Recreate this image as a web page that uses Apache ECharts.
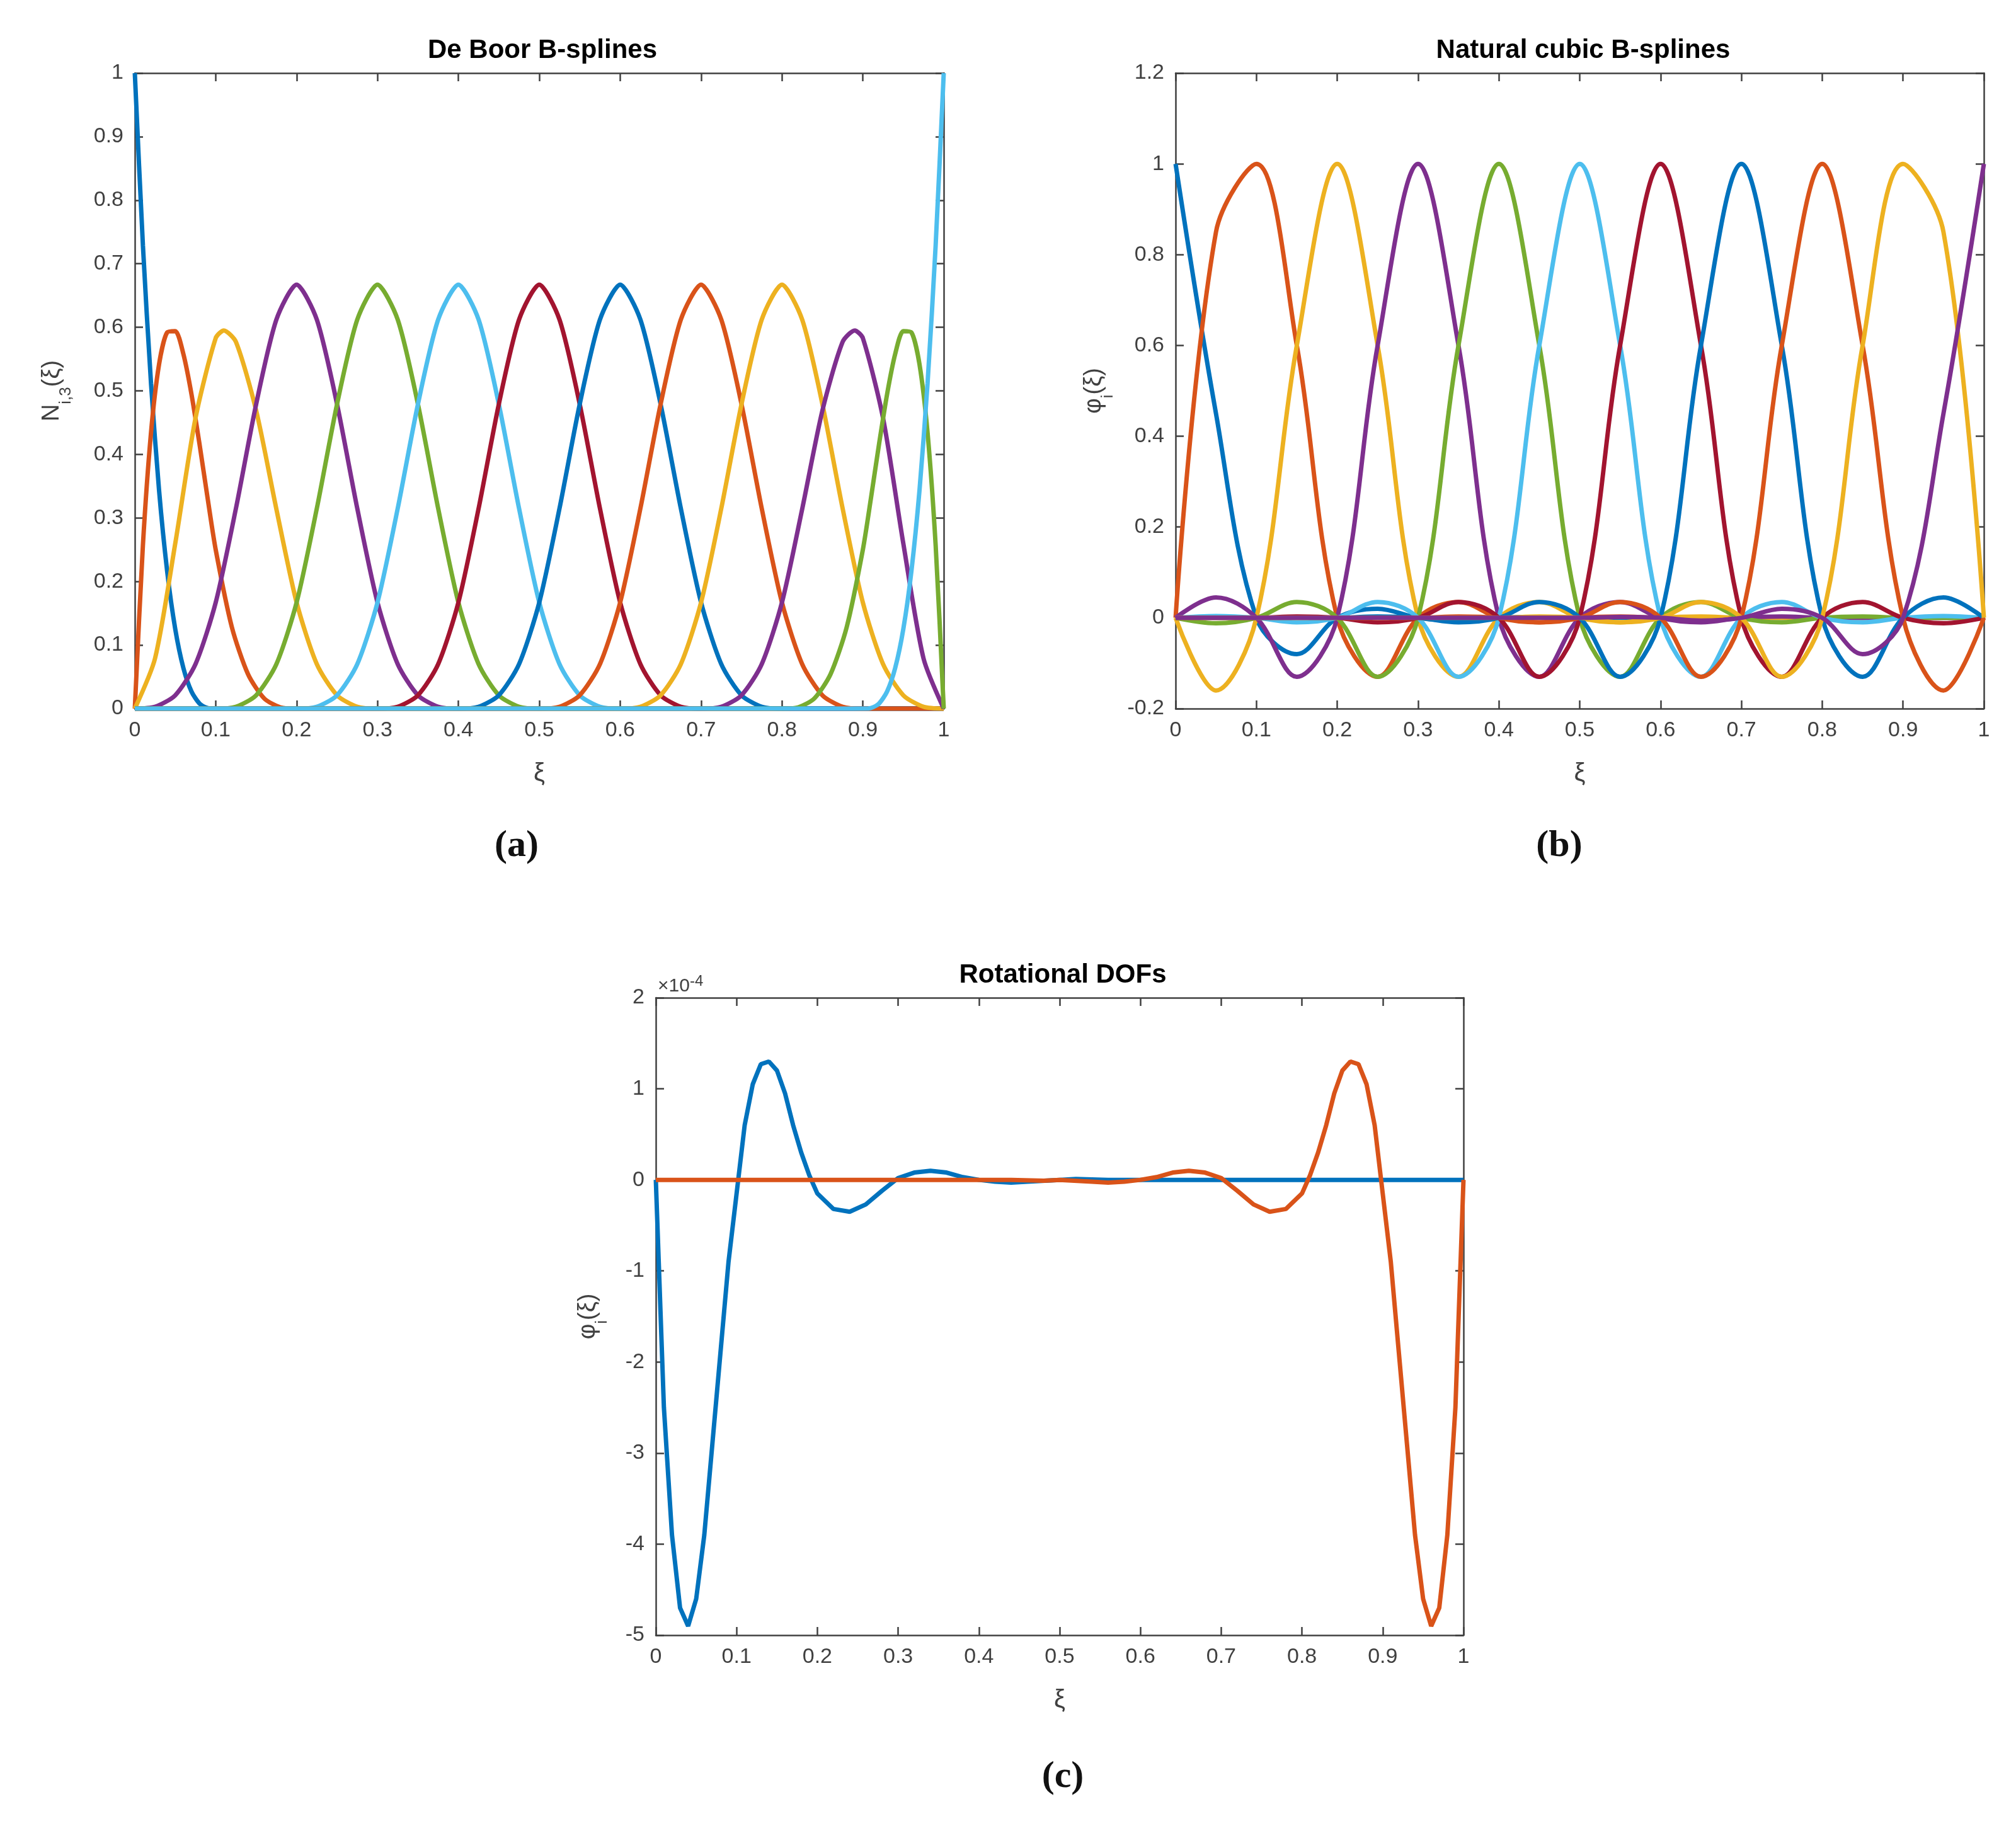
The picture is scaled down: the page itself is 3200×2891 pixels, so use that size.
<!DOCTYPE html>
<html>
<head>
<meta charset="utf-8">
<script src="https://cdn.jsdelivr.net/npm/echarts@6/dist/echarts.min.js"></script>
<style>html,body{margin:0;padding:0;background:#fff}#chart{width:3200px;height:2891px}</style>
</head>
<body>
<div id="chart"></div>
<script>
var colors = ['#0072BD', '#D95319', '#EDB120', '#7E2F8E', '#77AC30', '#4DBEEE', '#A2142F'];

// (a) De Boor B-splines, [xi, N] pairs
var deBoor0 = [[0,1],[0.01,0.729],[0.02,0.512],[0.03,0.343],[0.04,0.216],[0.05,0.125],[0.06,0.064],[0.07,0.027],[0.08,0.008],[0.09,0.001],[0.1,0],[1,0]];
var deBoor1 = [[0,0],[0.01,0.257],[0.02,0.434],[0.03,0.542],[0.04,0.592],[0.05,0.594],[0.06,0.558],[0.07,0.495],[0.08,0.416],[0.09,0.331],[0.1,0.25],[0.12,0.128],[0.14,0.054],[0.16,0.016],[0.18,0.002],[0.2,0],[1,0]];
var deBoor2 = [[0,0],[0.025,0.079],[0.05,0.26],[0.075,0.457],[0.1,0.583],[0.11,0.595],[0.125,0.577],[0.15,0.469],[0.175,0.314],[0.2,0.167],[0.225,0.07],[0.25,0.021],[0.275,0.003],[0.3,0],[1,0]];
var deBoor3 = [[0,0],[0.025,0.003],[0.05,0.021],[0.075,0.07],[0.1,0.167],[0.125,0.315],[0.15,0.479],[0.175,0.612],[0.2,0.667],[0.225,0.612],[0.25,0.479],[0.275,0.315],[0.3,0.167],[0.325,0.07],[0.35,0.021],[0.375,0.003],[0.4,0],[1,0]];
var deBoor4 = [[0,0],[0.1,0],[0.125,0.003],[0.15,0.021],[0.175,0.07],[0.2,0.167],[0.225,0.315],[0.25,0.479],[0.275,0.612],[0.3,0.667],[0.325,0.612],[0.35,0.479],[0.375,0.315],[0.4,0.167],[0.425,0.07],[0.45,0.021],[0.475,0.003],[0.5,0],[1,0]];
var deBoor5 = [[0,0],[0.2,0],[0.225,0.003],[0.25,0.021],[0.275,0.07],[0.3,0.167],[0.325,0.315],[0.35,0.479],[0.375,0.612],[0.4,0.667],[0.425,0.612],[0.45,0.479],[0.475,0.315],[0.5,0.167],[0.525,0.07],[0.55,0.021],[0.575,0.003],[0.6,0],[1,0]];
var deBoor6 = [[0,0],[0.3,0],[0.325,0.003],[0.35,0.021],[0.375,0.07],[0.4,0.167],[0.425,0.315],[0.45,0.479],[0.475,0.612],[0.5,0.667],[0.525,0.612],[0.55,0.479],[0.575,0.315],[0.6,0.167],[0.625,0.07],[0.65,0.021],[0.675,0.003],[0.7,0],[1,0]];
var deBoor7 = [[0,0],[0.4,0],[0.425,0.003],[0.45,0.021],[0.475,0.07],[0.5,0.167],[0.525,0.315],[0.55,0.479],[0.575,0.612],[0.6,0.667],[0.625,0.612],[0.65,0.479],[0.675,0.315],[0.7,0.167],[0.725,0.07],[0.75,0.021],[0.775,0.003],[0.8,0],[1,0]];
var deBoor8 = [[0,0],[0.5,0],[0.525,0.003],[0.55,0.021],[0.575,0.07],[0.6,0.167],[0.625,0.315],[0.65,0.479],[0.675,0.612],[0.7,0.667],[0.725,0.612],[0.75,0.479],[0.775,0.315],[0.8,0.167],[0.825,0.07],[0.85,0.021],[0.875,0.003],[0.9,0],[1,0]];
var deBoor9 = [[0,0],[0.6,0],[0.625,0.003],[0.65,0.021],[0.675,0.07],[0.7,0.167],[0.725,0.315],[0.75,0.479],[0.775,0.612],[0.8,0.667],[0.825,0.612],[0.85,0.479],[0.875,0.315],[0.9,0.167],[0.925,0.07],[0.95,0.021],[0.975,0.003],[1,0]];
var deBoor10 = [[0,0],[0.7,0],[0.725,0.003],[0.75,0.021],[0.775,0.07],[0.8,0.167],[0.825,0.314],[0.85,0.469],[0.875,0.577],[0.89,0.595],[0.9,0.583],[0.925,0.457],[0.95,0.26],[0.975,0.079],[1,0]];
var deBoor11 = [[0,0],[0.8,0],[0.82,0.002],[0.84,0.016],[0.86,0.054],[0.88,0.128],[0.9,0.25],[0.91,0.331],[0.92,0.416],[0.93,0.495],[0.94,0.558],[0.95,0.594],[0.96,0.592],[0.97,0.542],[0.98,0.434],[0.99,0.257],[1,0]];
var deBoor12 = [[0,0],[0.9,0],[0.91,0.001],[0.92,0.008],[0.93,0.027],[0.94,0.064],[0.95,0.125],[0.96,0.216],[0.97,0.343],[0.98,0.512],[0.99,0.729],[1,1]];
var deBoorSeries = [deBoor0, deBoor1, deBoor2, deBoor3, deBoor4, deBoor5, deBoor6, deBoor7, deBoor8, deBoor9, deBoor10, deBoor11, deBoor12];

// (b) natural cubic B-splines, values at xi = 0, 0.05, ..., 1
var naturalX = [0,0.05,0.1,0.15,0.2,0.25,0.3,0.35,0.4,0.45,0.5,0.55,0.6,0.65,0.7,0.75,0.8,0.85,0.9,0.95,1];
var natural0  = [1,0.45,0,-0.08,0,0.02,0,-0.006,0,0.002,0,0,0,0,0,0,0,0,0,0,0];
var natural1  = [0,0.85,1,0.6,0,-0.13,0,0.035,0,-0.01,0,0.003,0,0,0,0,0,0,0,0,0];
var natural2  = [0,-0.16,0,0.6,1,0.6,0,-0.13,0,0.035,0,-0.01,0,0.003,0,0,0,0,0,0,0];
var natural3  = [0,0.045,0,-0.13,0,0.6,1,0.6,0,-0.13,0,0.035,0,-0.01,0,0.003,0,0,0,0,0];
var natural4  = [0,-0.012,0,0.035,0,-0.13,0,0.6,1,0.6,0,-0.13,0,0.035,0,-0.01,0,0.003,0,0,0];
var natural5  = [0,0.004,0,-0.01,0,0.035,0,-0.13,0,0.6,1,0.6,0,-0.13,0,0.035,0,-0.01,0,0.004,0];
var natural6  = [0,0,0,0.003,0,-0.01,0,0.035,0,-0.13,0,0.6,1,0.6,0,-0.13,0,0.035,0,-0.012,0];
var natural7  = [0,0,0,0,0,0.003,0,-0.01,0,0.035,0,-0.13,0,0.6,1,0.6,0,-0.13,0,0.045,0];
var natural8  = [0,0,0,0,0,0,0,0.003,0,-0.01,0,0.035,0,-0.13,0,0.6,1,0.6,0,-0.16,0];
var natural9  = [0,0,0,0,0,0,0,0,0,0.003,0,-0.01,0,0.035,0,-0.13,0,0.6,1,0.85,0];
var natural10 = [0,0,0,0,0,0,0,0,0,0,0,0.002,0,-0.006,0,0.02,0,-0.08,0,0.45,1];
var naturalSeries = [natural0, natural1, natural2, natural3, natural4, natural5, natural6, natural7, natural8, natural9, natural10];

// (c) rotational DOFs, values in units of 1e-4
var rotLeft = [[0,0],[0.01,-2.5],[0.02,-3.9],[0.03,-4.7],[0.04,-4.9],[0.05,-4.6],[0.06,-3.9],[0.07,-2.9],[0.08,-1.9],[0.09,-0.9],[0.1,-0.15],[0.11,0.6],[0.12,1.05],[0.13,1.27],[0.14,1.3],[0.15,1.2],[0.16,0.95],[0.17,0.6],[0.18,0.3],[0.19,0.05],[0.2,-0.15],[0.22,-0.32],[0.24,-0.35],[0.26,-0.27],[0.28,-0.12],[0.3,0.02],[0.32,0.08],[0.34,0.1],[0.36,0.08],[0.38,0.03],[0.4,0],[0.42,-0.02],[0.44,-0.03],[0.46,-0.02],[0.5,0],[0.52,0.01],[0.56,0],[1,0]];
var rotRight = [[0,0],[0.44,0],[0.48,-0.01],[0.5,0],[0.54,-0.02],[0.56,-0.03],[0.58,-0.02],[0.6,0],[0.62,0.03],[0.64,0.08],[0.66,0.1],[0.68,0.08],[0.7,0.02],[0.72,-0.12],[0.74,-0.27],[0.76,-0.35],[0.78,-0.32],[0.8,-0.15],[0.81,0.05],[0.82,0.3],[0.83,0.6],[0.84,0.95],[0.85,1.2],[0.86,1.3],[0.87,1.27],[0.88,1.05],[0.89,0.6],[0.9,-0.15],[0.91,-0.9],[0.92,-1.9],[0.93,-2.9],[0.94,-3.9],[0.95,-4.6],[0.96,-4.9],[0.97,-4.7],[0.98,-3.9],[0.99,-2.5],[1,0]];

var chart = echarts.init(document.getElementById('chart'));
var font = '"Liberation Sans Narrow", "Liberation Sans", sans-serif';
var axisColor = '#404040';
var lineStyleAxis = {color: axisColor, width: 2.5};
var grids = [
    {left: 214, top: 116, width: 1284, height: 1009},
    {left: 1866, top: 116, width: 1283, height: 1009},
    {left: 1041, top: 1584, width: 1282, height: 1012}
];
var yRanges = [[0, 1, 0.1], [-0.2, 1.2, 0.2], [-5, 2, 1]];
var yNames = [
    '{n|N}{s|i,3}{n|(ξ)}',
    '{n|φ}{s|i}{n|(ξ)}',
    '{n|φ}{s|i}{n|(ξ)}'
];
var yGaps = [112, 110, 88];

function fmt(v) {
    return String(+v.toFixed(2));
}

var xAxes = [];
var yAxes = [];
for (var g = 0; g < 3; g++) {
    xAxes.push({
        gridIndex: g, type: 'value', min: 0, max: 1, interval: 0.1, position: 'bottom',
        name: 'ξ', nameLocation: 'middle', nameGap: 84,
        nameTextStyle: {fontFamily: font, fontSize: 40, color: axisColor},
        axisLine: {onZero: false, lineStyle: lineStyleAxis},
        axisTick: {inside: true, length: 13, lineStyle: lineStyleAxis},
        axisLabel: {fontFamily: font, fontSize: 34, color: axisColor, margin: 18, formatter: fmt},
        splitLine: {show: false}
    });
    xAxes.push({
        gridIndex: g, type: 'value', min: 0, max: 1, interval: 0.1, position: 'top',
        axisLine: {onZero: false, lineStyle: lineStyleAxis},
        axisTick: {inside: true, length: 13, lineStyle: lineStyleAxis},
        axisLabel: {show: false}, splitLine: {show: false}
    });
    yAxes.push({
        gridIndex: g, type: 'value', min: yRanges[g][0], max: yRanges[g][1], interval: yRanges[g][2], position: 'left',
        name: yNames[g], nameLocation: 'middle', nameGap: yGaps[g], nameRotate: 90,
        nameTextStyle: {rich: {
            n: {fontFamily: font, fontSize: 38, color: axisColor},
            s: {fontFamily: font, fontSize: 26, color: axisColor, verticalAlign: 'bottom', padding: [0, 0, -16, 0]}
        }},
        axisLine: {onZero: false, lineStyle: lineStyleAxis},
        axisTick: {inside: true, length: 13, lineStyle: lineStyleAxis},
        axisLabel: {fontFamily: font, fontSize: 34, color: axisColor, margin: 18, formatter: fmt},
        splitLine: {show: false}
    });
    yAxes.push({
        gridIndex: g, type: 'value', min: yRanges[g][0], max: yRanges[g][1], interval: yRanges[g][2], position: 'right',
        axisLine: {onZero: false, lineStyle: lineStyleAxis},
        axisTick: {inside: true, length: 13, lineStyle: lineStyleAxis},
        axisLabel: {show: false}, splitLine: {show: false}
    });
}

var series = [];
function addLine(g, data, color, smooth) {
    series.push({
        type: 'line', xAxisIndex: g * 2, yAxisIndex: g * 2, data: data,
        showSymbol: false, smooth: smooth, animation: false,
        lineStyle: {color: color, width: 7}
    });
}
deBoorSeries.forEach(function (d, i) {
    addLine(0, d, colors[i % 7], 0.25);
});
naturalSeries.forEach(function (vals, i) {
    addLine(1, vals.map(function (v, j) { return [naturalX[j], v]; }), colors[i % 7], 0.35);
});
addLine(2, rotLeft, colors[0], false);
addLine(2, rotRight, colors[1], false);

var titleStyle = {fontFamily: 'Liberation Sans', fontSize: 42, fontWeight: 'bold', color: '#000'};
var capStyle = {fontFamily: 'Liberation Serif', fontSize: 60, fontWeight: 'bold', color: '#111'};

var option = {
    backgroundColor: '#fff',
    animation: false,
    title: [
        {text: 'De Boor B-splines', left: 856, top: 54, textAlign: 'center', textStyle: titleStyle},
        {text: 'Natural cubic B-splines', left: 2508, top: 54, textAlign: 'center', textStyle: titleStyle},
        {text: 'Rotational DOFs', left: 1682, top: 1522, textAlign: 'center', textStyle: titleStyle},
        {text: '(a)', left: 815, top: 1308, textAlign: 'center', textStyle: capStyle},
        {text: '(b)', left: 2470, top: 1308, textAlign: 'center', textStyle: capStyle},
        {text: '(c)', left: 1682, top: 2786, textAlign: 'center', textStyle: capStyle}
    ],
    graphic: [{
        type: 'text', left: 1044, top: 1546,
        style: {
            text: '{a|×10}{b|-4}',
            rich: {
                a: {fontFamily: font, fontSize: 30, fill: axisColor},
                b: {fontFamily: font, fontSize: 24, fill: axisColor, verticalAlign: 'top', padding: [0, 0, 16, 0]}
            }
        }
    }],
    grid: grids,
    xAxis: xAxes,
    yAxis: yAxes,
    series: series
};
chart.setOption(option);
</script>
</body>
</html>
